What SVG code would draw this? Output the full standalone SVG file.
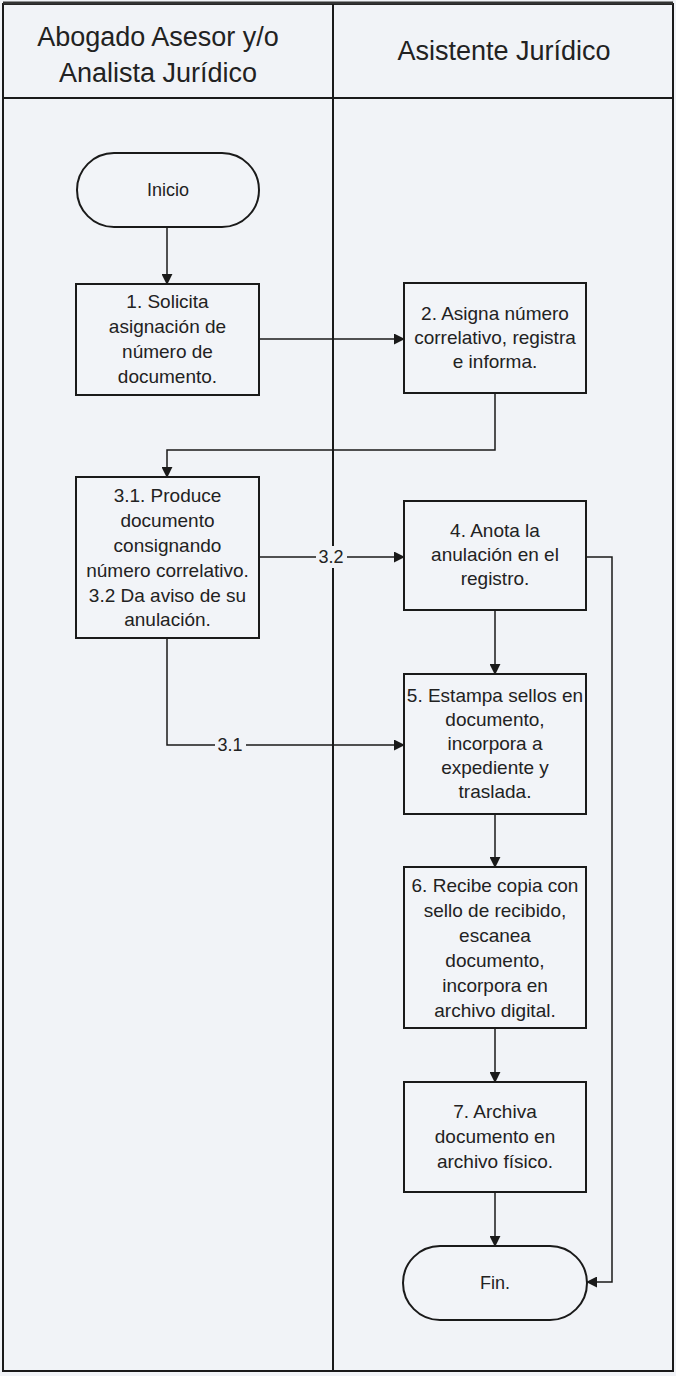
<svg xmlns="http://www.w3.org/2000/svg" width="676" height="1376" viewBox="0 0 676 1376">
<defs>
<style>
.frame{fill:none;stroke:#1a1a1a;stroke-width:2}
.node{fill:#f2f4f8;stroke:#1a1a1a;stroke-width:2}
.t{font-family:"Liberation Sans",Arial,sans-serif;font-size:19px;fill:#222;text-anchor:middle}
.s{font-size:18px}
.h{font-family:"Liberation Sans",Arial,sans-serif;font-size:27px;fill:#222;text-anchor:middle}
.c{fill:none;stroke:#1a1a1a;stroke-width:1.5}
.lbl{fill:#f1f3f7}
</style>
<marker id="ah" viewBox="0 0 12 12" refX="11" refY="6" markerWidth="11" markerHeight="11" markerUnits="userSpaceOnUse" orient="auto">
<path d="M0,0 L12,6 L0,12 Z" fill="#1a1a1a"/>
</marker>
</defs>
<rect x="0" y="0" width="676" height="1376" fill="#f1f3f7"/>
<g id="lanes">
<rect class="frame" x="3" y="4" width="670" height="1367"/>
<line x1="3" y1="3" x2="673" y2="3" stroke="#333" stroke-width="3"/>
<line class="frame" x1="3" y1="98" x2="673" y2="98"/>
<line class="frame" x1="333" y1="4" x2="333" y2="1371"/>
<text class="h" x="158" y="46">Abogado Asesor y/o</text>
<text class="h" x="158" y="82">Analista Jurídico</text>
<text class="h" x="504" y="60">Asistente Jurídico</text>
</g>
<g id="connectors">
<path class="c" d="M167,227 L167,284" marker-end="url(#ah)"/>
<path class="c" d="M259,339 L404,339" marker-end="url(#ah)"/>
<path class="c" d="M495,393 L495,450 L167,450 L167,477" marker-end="url(#ah)"/>
<path class="c" d="M259,557 L404,557" marker-end="url(#ah)"/>
<path class="c" d="M167,638 L167,745 L404,745" marker-end="url(#ah)"/>
<path class="c" d="M495,610 L495,674" marker-end="url(#ah)"/>
<path class="c" d="M495,814 L495,867" marker-end="url(#ah)"/>
<path class="c" d="M495,1028 L495,1082" marker-end="url(#ah)"/>
<path class="c" d="M495,1192 L495,1246" marker-end="url(#ah)"/>
<path class="c" d="M586,557 L612,557 L612,1282 L587,1282" marker-end="url(#ah)"/>
<rect class="lbl" x="316" y="546" width="31" height="22"/>
<text class="t s" x="331" y="563">3.2</text>
<rect class="lbl" x="215" y="734" width="31" height="22"/>
<text class="t s" x="230" y="751">3.1</text>
</g>
<g id="inicio">
<rect class="node" x="77" y="153" width="182" height="74" rx="37"/>
<text class="t s" x="168" y="196">Inicio</text>
</g>
<g id="n1">
<rect class="node" x="76" y="284" width="183" height="111"/>
<text class="t" x="167.5" y="308">1. Solicita</text>
<text class="t" x="167.5" y="333">asignación de</text>
<text class="t" x="167.5" y="358">número de</text>
<text class="t" x="167.5" y="383">documento.</text>
</g>
<g id="n2">
<rect class="node" x="404" y="283" width="182" height="110"/>
<text class="t" x="495" y="320">2. Asigna número</text>
<text class="t" x="495" y="344">correlativo, registra</text>
<text class="t" x="495" y="368">e informa.</text>
</g>
<g id="n3">
<rect class="node" x="76" y="477" width="183" height="161"/>
<text class="t" x="167.5" y="502">3.1. Produce</text>
<text class="t" x="167.5" y="527">documento</text>
<text class="t" x="167.5" y="552">consignando</text>
<text class="t" x="167.5" y="577">número correlativo.</text>
<text class="t" x="167.5" y="602">3.2 Da aviso de su</text>
<text class="t" x="167.5" y="626">anulación.</text>
</g>
<g id="n4">
<rect class="node" x="404" y="501" width="182" height="109"/>
<text class="t" x="495" y="537">4. Anota la</text>
<text class="t" x="495" y="561">anulación en el</text>
<text class="t" x="495" y="585">registro.</text>
</g>
<g id="n5">
<rect class="node" x="404" y="674" width="182" height="140"/>
<text class="t" x="495" y="702">5. Estampa sellos en</text>
<text class="t" x="495" y="726">documento,</text>
<text class="t" x="495" y="750">incorpora a</text>
<text class="t" x="495" y="774">expediente y</text>
<text class="t" x="495" y="798">traslada.</text>
</g>
<g id="n6">
<rect class="node" x="404" y="867" width="182" height="161"/>
<text class="t" x="495" y="892">6. Recibe copia con</text>
<text class="t" x="495" y="917">sello de recibido,</text>
<text class="t" x="495" y="942">escanea</text>
<text class="t" x="495" y="967">documento,</text>
<text class="t" x="495" y="992">incorpora en</text>
<text class="t" x="495" y="1017">archivo digital.</text>
</g>
<g id="n7">
<rect class="node" x="404" y="1082" width="182" height="110"/>
<text class="t" x="495" y="1118">7. Archiva</text>
<text class="t" x="495" y="1143">documento en</text>
<text class="t" x="495" y="1168">archivo físico.</text>
</g>
<g id="fin">
<rect class="node" x="403" y="1246" width="184" height="74" rx="37"/>
<text class="t s" x="495" y="1289">Fin.</text>
</g>
</svg>
